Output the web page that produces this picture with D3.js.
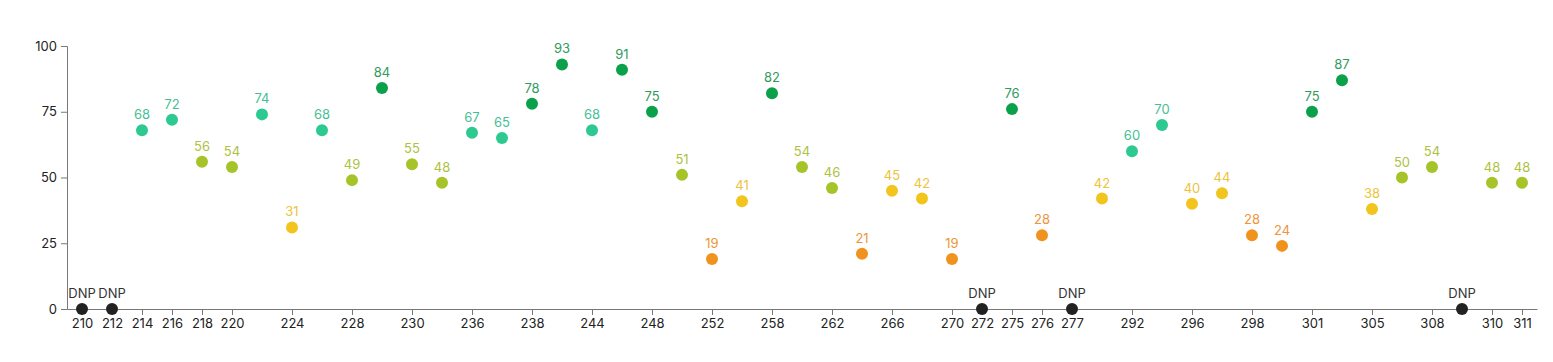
<!DOCTYPE html>
<html>
<head>
<meta charset="utf-8">
<script src="https://cdn.jsdelivr.net/npm/d3@7"></script>
<style>
  html, body { margin: 0; padding: 0; background: #fff; }
  svg text { font-family: Inter, "Noto Sans", sans-serif; }
</style>
</head>
<body>
<svg id="chart" width="1553" height="362"></svg>
<script>
// Game slots in order (only some carry a visible tick label)
const games = ["210","212","214","216","218","220","222","224","226","228","229","230","233","236","237","238","241","244","246","248","250","252","255","258","260","262","264","266","268","270","272","275","276","277","285","292","294","296","297","298","299","301","303","305","307","308","309","310","311"];
// null = DNP (did not play)
const scores = [null,null,68,72,56,54,74,31,68,49,84,55,48,67,65,78,93,68,91,75,51,19,41,82,54,46,21,45,42,19,null,76,28,null,42,60,70,40,44,28,24,75,87,38,50,54,null,48,48];
const tickLabels = ["210","212","214","216","218","220","224","228","230","236","238","244","248","252","258","262","266","270","272","275","276","277","292","296","298","301","305","308","310","311"];
const yTicks = [0,25,50,75,100];

const data = games.map((g, i) => ({ game: g, score: scores[i] }));

const svg = d3.select("#chart");
const margin = { left: 67, right: 16, top: 46, bottom: 53 };
const W = 1553, H = 362;

const x = d3.scalePoint().domain(games).range([margin.left, W - margin.right]).padding(0.5);
const y = d3.scaleLinear().domain([0, 100]).range([H - margin.bottom, margin.top]);

function colorFor(v) {
  if (v === null) return "#222";
  if (v >= 75) return "#0ba14a";
  if (v >= 58) return "#2cc990";
  if (v >= 46) return "#a6c42a";
  if (v >= 30) return "#f2c41e";
  return "#f0921e";
}
function labelColor(v) {
  if (v === null) return "#333";
  if (v >= 75) return "#2f9a5c";
  if (v >= 58) return "#45c095";
  if (v >= 46) return "#aec23f";
  if (v >= 30) return "#ecc43c";
  return "#ee943a";
}

// Y axis
const yAxis = svg.append("g")
  .attr("transform", `translate(${margin.left},0)`)
  .call(d3.axisLeft(y).tickValues(yTicks).tickSize(6).tickPadding(4));
yAxis.select(".domain").attr("stroke", "#777");
yAxis.selectAll(".tick line").attr("stroke", "#777");
yAxis.selectAll(".tick text").attr("font-size", 13).attr("fill", "#222");

// X axis
const xAxis = svg.append("g")
  .attr("transform", `translate(0,${y(0)})`)
  .call(d3.axisBottom(x).tickValues(tickLabels).tickSize(6).tickSizeOuter(0).tickPadding(4));
xAxis.select(".domain").attr("stroke", "#777");
xAxis.selectAll(".tick line").attr("stroke", "#777");
xAxis.selectAll(".tick text").attr("font-size", 13).attr("fill", "#222");

// Points
const g = svg.append("g");
g.selectAll("circle").data(data).join("circle")
  .attr("cx", d => x(d.game))
  .attr("cy", d => y(d.score === null ? 0 : d.score))
  .attr("r", 6)
  .attr("fill", d => colorFor(d.score));

g.selectAll("text").data(data).join("text")
  .attr("x", d => x(d.game))
  .attr("y", d => y(d.score === null ? 0 : d.score) - 11)
  .attr("text-anchor", "middle")
  .attr("font-size", 13)
  .attr("fill", d => labelColor(d.score))
  .text(d => d.score === null ? "DNP" : d.score);
</script>
</body>
</html>
